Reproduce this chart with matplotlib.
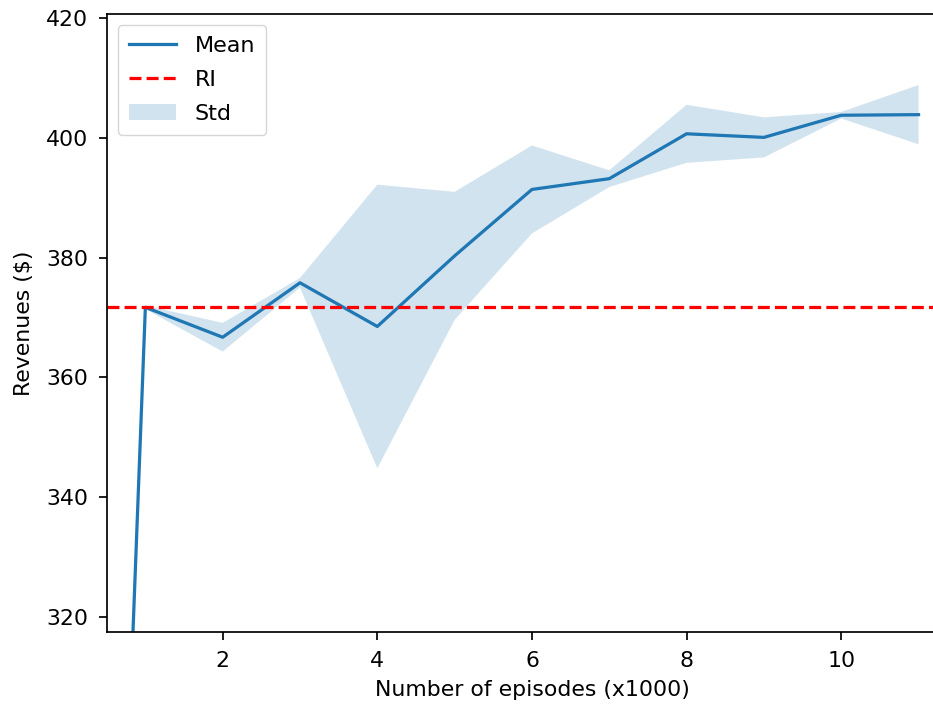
import numpy as np
import matplotlib
matplotlib.use("Agg")
import matplotlib.pyplot as plt

# Training curve: revenue per checkpoint (thousands of episodes)
episodes = [0, 1, 2, 3, 4, 5, 6, 7, 8, 9, 10, 11]
mean_revenue = [33.0, 371.7, 366.7, 375.8, 368.5, 380.3, 391.4, 393.2, 400.7, 400.1, 403.8, 403.9]
std_revenue = [0.0, 0.3, 2.4, 0.8, 23.7, 10.7, 7.35, 1.4, 4.85, 3.35, 0.55, 4.95]
ri_revenue = 371.7

S = 1.55  # scale factor for line sizes at dpi 100
FS = 15.8
plt.rcParams.update({
    "font.size": FS,
    "axes.linewidth": 0.8 * S,
    "axes.labelpad": 6.3,
    "xtick.major.size": 5.8,
    "ytick.major.size": 5.8,
    "xtick.major.width": 0.8 * S,
    "ytick.major.width": 0.8 * S,
    "xtick.major.pad": 7.9,
    "ytick.major.pad": 7.7,
    "lines.linewidth": 1.5 * S,
})

W, H = 933, 709
fig = plt.figure(figsize=(W / 100, H / 100), dpi=100)
left, right, top, bottom = 106.7, 957.2, 14.0, 632.0
ax = fig.add_axes([left / W, 1 - bottom / H, (right - left) / W, (bottom - top) / H])

x = np.array(episodes, dtype=float)
m = np.array(mean_revenue)
s = np.array(std_revenue)

ax.plot(x, m, color="C0", label="Mean")
ax.axhline(ri_revenue, color="r", linestyle="--", label="RI")
ax.fill_between(x, m - s, m + s, color="C0", alpha=0.2, linewidth=0, label="Std")

ax.set_xlim(0.5, 11.5)
ax.set_ylim(317.44, 420.72)
ax.set_xticks([2, 4, 6, 8, 10])
ax.set_yticks([320, 340, 360, 380, 400, 420])

ax.set_xlabel("Number of episodes (x1000)")
ax.set_ylabel("Revenues ($)", labelpad=8.5)
ax.legend(loc="upper left", fontsize=16, labelspacing=0.62, borderpad=0.5,
          handlelength=2.1, handletextpad=0.85)

fig.savefig("out.png", dpi=100)
